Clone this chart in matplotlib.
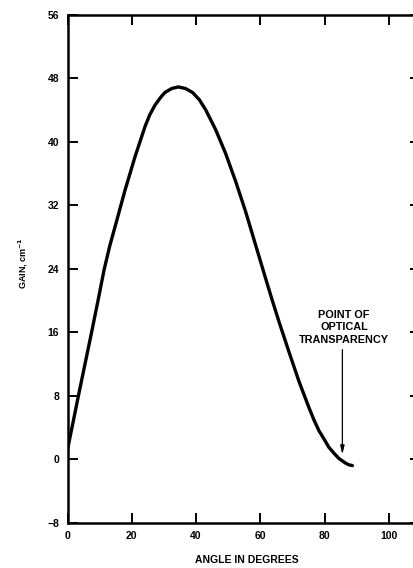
import matplotlib.pyplot as plt
import numpy as np

# values
angle = [0, 3.4, 7.5, 9.5, 11.4, 13.1, 14.8, 17.9, 21.0, 24.1, 25.6, 27.2,
         29.0, 30.3, 32.4, 34.5, 36.7, 38.9, 41.0, 43.0, 46.1, 49.2, 52.3,
         55.4, 58.5, 61.6, 63.7, 65.8, 68.9, 72.0, 75.1, 76.6, 78.2, 80.0,
         81.3, 83.0, 84.4, 86.5, 87.5, 88.6]
gain = [1.2, 8.0, 16.0, 20.0, 23.9, 26.8, 29.3, 33.9, 38.1, 41.9, 43.4, 44.6,
        45.6, 46.2, 46.7, 46.9, 46.7, 46.2, 45.3, 44.0, 41.5, 38.5, 35.0,
        31.2, 27.0, 22.8, 20.0, 17.3, 13.5, 9.8, 6.5, 5.0, 3.6, 2.4,
        1.5, 0.7, 0.1, -0.5, -0.7, -0.8]
x_ticks = [0, 20, 40, 60, 80, 100]
y_ticks = [-8, 0, 8, 16, 24, 32, 40, 48, 56]
transparency_angle = 85.5

plt.rcParams['font.family'] = ['Liberation Sans', 'DejaVu Sans']

W, H = 413, 568
fig = plt.figure(figsize=(W / 100, H / 100), dpi=100)
ax = fig.add_axes([67.5 / W, 1 - 522.7 / H, 109.5 * 3.215 / W, 508 / H])

ax.plot(angle, gain, color='black', lw=2.4, solid_capstyle='round',
        solid_joinstyle='round')

ax.annotate('', xy=(transparency_angle, 0.6), xytext=(transparency_angle, 13.8),
            arrowprops=dict(arrowstyle='-|>,head_length=0.5,head_width=0.12',
                            color='black', lw=0.9, shrinkA=0, shrinkB=0))
ax.text(86.0, 16.6, 'POINT OF\nOPTICAL\nTRANSPARENCY', ha='center',
        va='center', multialignment='center', fontsize=7.8, fontweight='bold',
        linespacing=1.3)

ax.set_xlim(0, 109.5)
ax.set_ylim(-8, 56)
ax.set_xticks(x_ticks)
ax.set_yticks(y_ticks)
ax.tick_params(direction='in', length=7.5, width=1.4, labelsize=7.5, pad=6,
               top=True, right=True)
for lbl in ax.get_xticklabels() + ax.get_yticklabels():
    lbl.set_fontweight('bold')
for s in ax.spines.values():
    s.set_linewidth(1.8)

fig.text(246.7 / W, 1 - 560 / H, 'ANGLE IN DEGREES', ha='center', va='center',
         fontsize=7.5, fontweight='bold')
fig.text(23 / W, 1 - 263 / H, r'GAIN, cm$^{\mathbf{-1}}$', ha='center', va='center',
         rotation=90, fontsize=6.5, fontweight='bold')

fig.savefig('out.png', dpi=100)
